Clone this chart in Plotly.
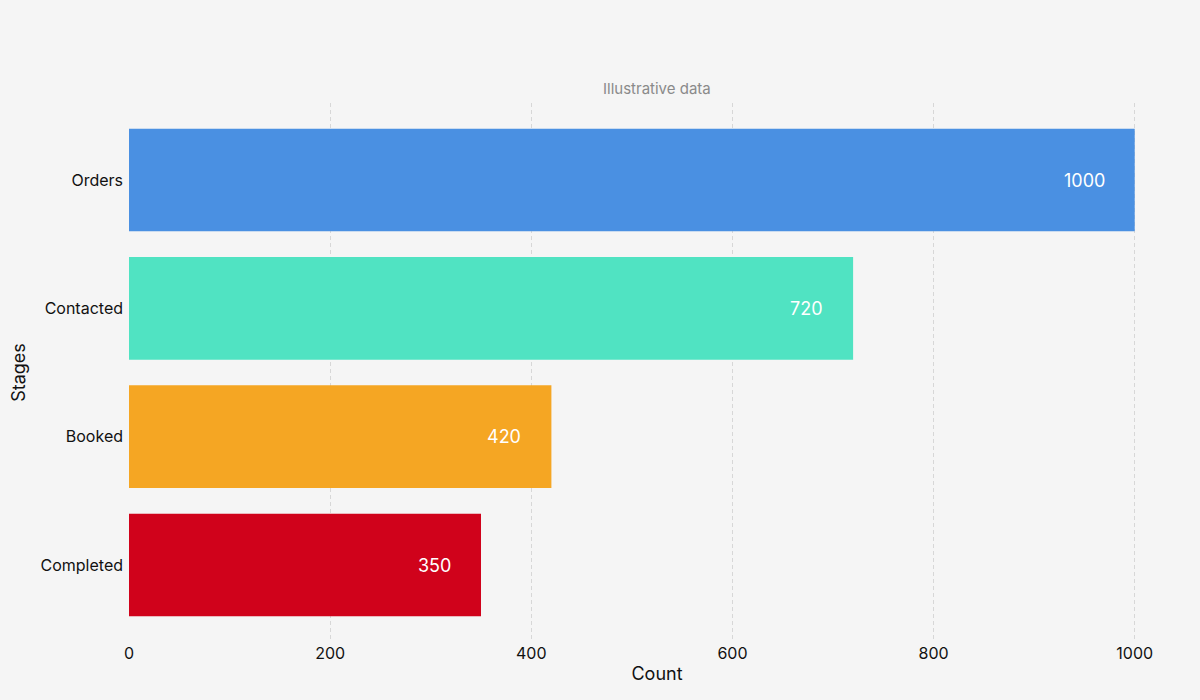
import plotly.graph_objects as go

# funnel stages, top to bottom
stages = ["Orders", "Contacted", "Booked", "Completed"]
counts = [1000, 720, 420, 350]
bar_colors = ["#4A90E2", "#50E3C2", "#F5A623", "#D0021B"]
x_ticks = [0, 200, 400, 600, 800, 1000]

font_family = "Inter, Open Sans, sans-serif"

fig = go.Figure()
fig.add_trace(go.Bar(
    y=stages,
    x=counts,
    orientation="h",
    marker=dict(color=bar_colors, line=dict(width=0)),
    hoverinfo="x+y",
))

# value labels sitting inside the bar end
for s, c in zip(stages, counts):
    fig.add_annotation(
        x=c, y=s, xref="x", yref="y",
        text=str(c), showarrow=False,
        xanchor="right", xshift=-28,
        font=dict(color="white", size=18, family=font_family),
    )

fig.add_annotation(
    x=0.5, y=1.0, xref="paper", yref="paper",
    yanchor="bottom", yshift=3,
    text="Illustrative data", showarrow=False,
    font=dict(color="#8a8a8a", size=15, family=font_family),
)

fig.update_layout(
    width=1200, height=700,
    paper_bgcolor="#f5f5f5", plot_bgcolor="#f5f5f5",
    margin=dict(l=129, r=15, t=103, b=58),
    bargap=0.2,
    showlegend=False,
    font=dict(family=font_family, color="#111111", size=16),
    xaxis=dict(
        range=[0, 1050],
        tickvals=x_ticks,
        showgrid=True, gridcolor="rgba(0,0,0,0.12)", griddash="4px,3px", gridwidth=1,
        zeroline=False, showline=False,
        ticks="", tickfont=dict(size=16),
        title=dict(text="Count", font=dict(size=18), standoff=5),
        layer="above traces",
    ),
    yaxis=dict(
        categoryorder="array", categoryarray=stages,
        range=[3.6, -0.6],
        showgrid=False, zeroline=False, showline=False,
        ticks="", tickfont=dict(size=16), ticklabelstandoff=5,
        title=dict(text="Stages", font=dict(size=18), standoff=10),
    ),
)

fig.write_html("out.html", config={"displayModeBar": False},
               post_script="document.body.style.margin='0';")
